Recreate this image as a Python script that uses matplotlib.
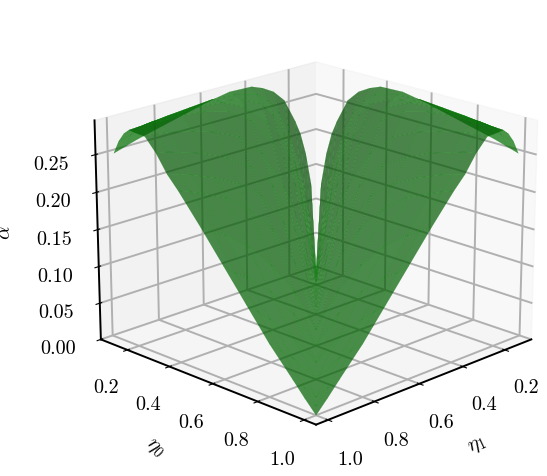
import numpy as np
import matplotlib
matplotlib.use('Agg')
import matplotlib.pyplot as plt

plt.rcParams['font.family'] = ['cmr10']
plt.rcParams['mathtext.fontset'] = 'cm'
plt.rcParams['axes.unicode_minus'] = False
plt.rcParams['axes.formatter.use_mathtext'] = True

eta = [.1, .125, .15, .175, .2, .25, .3, .35, .4, .5, .6, .7, .8, .9, .95, 1.0]

# alpha, one row per eta, entries right of the diagonal
# (the surface is symmetric and zero on the diagonal)
alpha_rows = [
    [.13, .175, .205, .225, .258, .274, .283, .289, .29, .284, .276, .268, .26, .255, .25],
    [.07, .12, .16, .21, .248, .268, .28, .288, .29, .287, .284, .28, .272, .268],
    [.06, .105, .175, .22, .25, .27, .284, .29, .29, .288, .285, .283, .28],
    [.05, .14, .19, .225, .245, .275, .29, .292, .291, .29, .288, .287],
    [.095, .155, .195, .22, .26, .28, .288, .291, .291, .29, .286],
    [.07, .125, .165, .22, .25, .265, .275, .282, .284, .285],
    [.065, .11, .18, .215, .235, .25, .26, .265, .268],
    [.055, .135, .18, .205, .222, .235, .24, .245],
    [.085, .14, .175, .20, .215, .222, .228],
    [.065, .11, .145, .17, .18, .19],
    [.055, .095, .125, .135, .15],
    [.045, .08, .095, .11],
    [.04, .055, .07],
    [.018, .035],
    [.017],
]
xy_ticks = [0.2, 0.4, 0.6, 0.8, 1.0]
z_ticks = [0.00, 0.05, 0.10, 0.15, 0.20, 0.25]

Z = np.zeros((len(eta), len(eta)))
for i, row in enumerate(alpha_rows):
    Z[i, i + 1:] = row
    Z[i + 1:, i] = row
X, Y = np.meshgrid(eta, eta)

fig = plt.figure(figsize=(5.47, 4.77), dpi=100)
ax = fig.add_axes([0.127, -0.004, 0.878, 1.006], projection='3d')
ax.plot_surface(X, Y, Z, color='g', alpha=0.7, edgecolor='g', linewidth=0.15,
                rstride=1, cstride=1)
ax.view_init(elev=19, azim=45)

ax.set_xticks(xy_ticks)
ax.set_yticks(xy_ticks)
ax.set_zticks(z_ticks)
ax.set_xticklabels(['%.1f' % t for t in xy_ticks], fontsize=14.5)
ax.set_yticklabels(['%.1f' % t for t in xy_ticks], fontsize=14.5)
ax.set_zticklabels(['%.2f' % t for t in z_ticks], fontsize=14.5)
ax.set_xlim(0.07, 1.05)
ax.set_ylim(0.07, 1.05)
ax.set_zlim(0, 0.295)
ax.tick_params(axis='x', pad=9)
ax.tick_params(axis='y', pad=9)
ax.tick_params(axis='z', pad=10)

ax.set_xlabel(r'$\eta_1$', fontsize=15, labelpad=17)
ax.set_ylabel(r'$\eta_0$', fontsize=15, labelpad=18)
ax.set_zlabel(r'$\alpha$', fontsize=15, labelpad=17)
for a in (ax.xaxis, ax.yaxis, ax.zaxis):
    a.set_rotate_label(False)
    a._axinfo['grid']['linewidth'] = 1.4
    a.line.set_linewidth(1.4)
ax.xaxis.label.set_rotation(25)
ax.yaxis.label.set_rotation(-45)
ax.zaxis.label.set_rotation(90)

fig.savefig('out.png', dpi=100)
